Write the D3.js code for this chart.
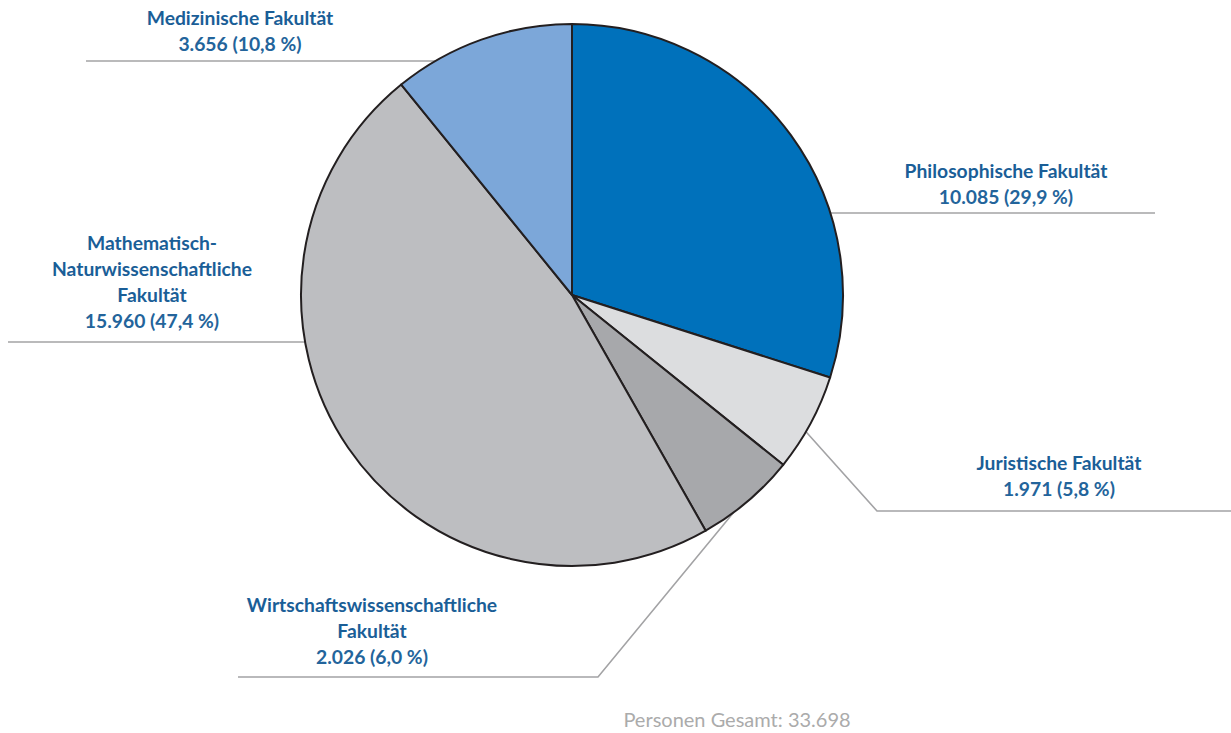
<!DOCTYPE html>
<html lang="de">
<head>
<meta charset="utf-8">
<script src="https://cdn.jsdelivr.net/npm/d3@7"></script>
<style>
  html, body { margin: 0; padding: 0; background: #ffffff; }
  svg { display: block; }
</style>
</head>
<body>
<svg id="chart" width="1231" height="733"></svg>
<script>
// Studierende nach Fakultäten
const faculties = [
  "Philosophische Fakultät",
  "Juristische Fakultät",
  "Wirtschaftswissenschaftliche Fakultät",
  "Mathematisch-Naturwissenschaftliche Fakultät",
  "Medizinische Fakultät"
];
const persons = [10085, 1971, 2026, 15960, 3656];
const shares = [29.9, 5.8, 6.0, 47.4, 10.8];
const labelLines = [
  ["Philosophische Fakultät"],
  ["Juristische Fakultät"],
  ["Wirtschaftswissenschaftliche", "Fakultät"],
  ["Mathematisch-", "Naturwissenschaftliche", "Fakultät"],
  ["Medizinische Fakultät"]
];
const totalLabel = "Personen Gesamt: ";
const sliceColors = ["#0071bb", "#dcdddf", "#a7a8ab", "#bdbec1", "#7ca7d9"];

// Layout of the labels and their leader lines
const cx = 572, cy = 295, radius = 271;
const labelLayout = [
  { x: 1006, y: 178, line: { y: 213, x: 1155 } },
  { x: 1059, y: 470, line: { angle: 120.3, elbow: [877, 511], x: 1231 } },
  { x: 372, y: 612, line: { angle: 143.4, elbow: [598, 677], x: 238 } },
  { x: 152, y: 250, line: { y: 342, x: 8 } },
  { x: 240, y: 25, line: { y: 61, x: 86 } }
];

const deNum = d3.formatLocale({ decimal: ",", thousands: ".", grouping: [3], currency: ["", " €"] });
const fmtInt = deNum.format(",d");
const fmtPct = deNum.format(",.1f");

const svg = d3.select("#chart");
const data = faculties.map((f, i) => ({ name: f, value: persons[i], share: shares[i], lines: labelLines[i], color: sliceColors[i], layout: labelLayout[i] }));

const pie = d3.pie().sort(null).value(d => d.value).startAngle(0).endAngle(2 * Math.PI);
const arc = d3.arc().innerRadius(0).outerRadius(radius);
const arcs = pie(data);

// leader lines
const lineGroup = svg.append("g").attr("fill", "none").attr("stroke", "#a3a3a5").attr("stroke-width", 1.6);
arcs.forEach(a => {
  const L = a.data.layout.line;
  let pts;
  if (L.angle !== undefined) {
    const t = L.angle * Math.PI / 180;
    const p = [cx + radius * Math.sin(t), cy - radius * Math.cos(t)];
    pts = [p, L.elbow, [L.x, L.elbow[1]]];
  } else {
    const dy = L.y - cy;
    const dx = Math.sqrt(radius * radius - dy * dy);
    const edgeX = L.x > cx ? cx + dx : cx - dx;
    pts = [[edgeX, L.y], [L.x, L.y]];
  }
  lineGroup.append("path").attr("d", d3.line()(pts));
});

// slices
const g = svg.append("g").attr("transform", `translate(${cx},${cy})`);
g.selectAll("path.slice")
  .data(arcs)
  .join("path")
  .attr("class", "slice")
  .attr("d", arc)
  .attr("fill", d => d.data.color)
  .attr("stroke", "#231f20")
  .attr("stroke-width", 2)
  .attr("stroke-linejoin", "round");

// labels
const lineHeight = 26;
const labels = svg.append("g")
  .attr("font-family", "Lato, 'Open Sans', sans-serif")
  .attr("font-size", 19.3)
  .attr("font-weight", 700)
  .attr("fill", "#1a5e97")
  .attr("text-anchor", "middle");
arcs.forEach(a => {
  const d = a.data;
  const rows = d.lines.concat([`${fmtInt(d.value)} (${fmtPct(d.share)} %)`]);
  const t = labels.append("text").attr("x", d.layout.x).attr("y", d.layout.y);
  rows.forEach((r, i) => {
    t.append("tspan")
      .attr("x", d.layout.x)
      .attr("dy", i === 0 ? 0 : lineHeight)
      .attr("fill", i === rows.length - 1 ? "#23649b" : null)
      .text(r);
  });
});

// total
svg.append("text")
  .attr("x", 737).attr("y", 727)
  .attr("text-anchor", "middle")
  .attr("font-family", "Lato, 'Open Sans', sans-serif")
  .attr("font-size", 20)
  .attr("fill", "#ababab")
  .text(totalLabel + fmtInt(d3.sum(persons)));
</script>
</body>
</html>
